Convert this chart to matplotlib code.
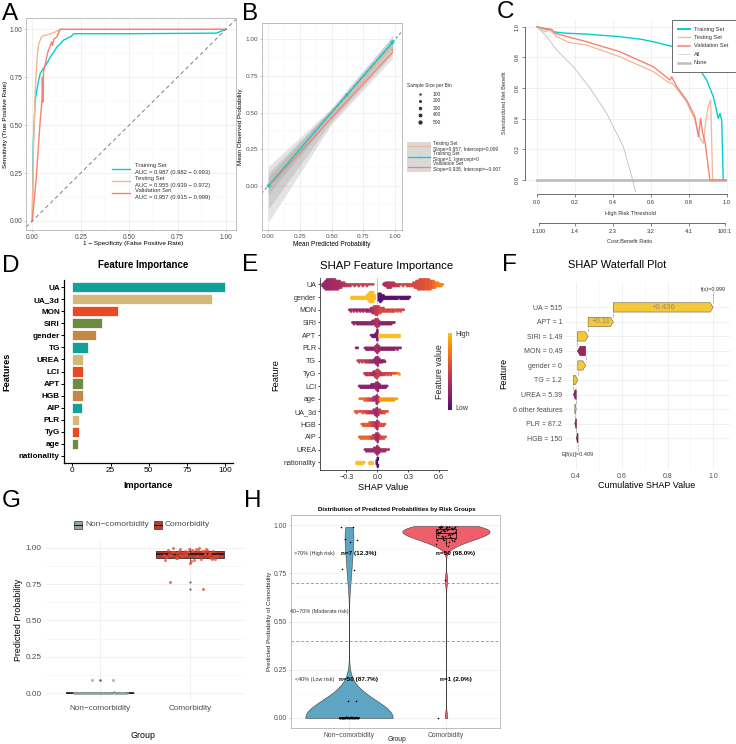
import numpy as np
import matplotlib
matplotlib.use("Agg")
import matplotlib.pyplot as plt
from matplotlib.patches import Polygon, Rectangle
import matplotlib.cm as cm
from matplotlib.colors import LinearSegmentedColormap

plt.rcParams['font.family'] = ['Liberation Sans', 'DejaVu Sans']
plt.rcParams['axes.unicode_minus'] = True

# ------------------------------------------------------------------ data
# A: ROC
roc_train_fpr = [0, 0.005, 0.015, 0.03, 0.041, 0.06, 0.08, 0.093, 0.11, 0.127, 0.145, 0.16, 0.175, 0.187, 0.2, 0.213, 0.5, 0.95, 1.0]
roc_train_tpr = [0, 0.40, 0.63, 0.72, 0.77, 0.80, 0.83, 0.856, 0.88, 0.908, 0.925, 0.943, 0.95, 0.957, 0.962, 0.977, 0.977, 0.98, 1.0]
roc_test_fpr = [0, 0.005, 0.015, 0.025, 0.033, 0.05, 0.09, 0.127, 0.144, 1.0]
roc_test_tpr = [0, 0.35, 0.68, 0.85, 0.925, 0.964, 0.975, 0.99, 1.0, 1.0]
roc_val_fpr = [0, 0.02, 0.041, 0.05, 0.052, 0.055, 0.058, 0.067, 0.08, 0.1, 0.104, 0.112, 0.127, 0.144, 1.0]
roc_val_tpr = [0, 0.22, 0.526, 0.63, 0.75, 0.62, 0.78, 0.82, 0.88, 0.934, 0.915, 0.95, 0.96, 1.0, 1.0]
roc_labels = ["Training Set\nAUC = 0.987 (0.982 \u2212 0.993)",
              "Testing Set\nAUC = 0.955 (0.939 \u2212 0.972)",
              "Validation Set\nAUC = 0.957 (0.915 \u2212 0.999)"]

# B: calibration
cal_pred_train = [0.005, 0.62, 0.98]
cal_obs_train = [0.0, 0.62, 0.98]
cal_n_train = [450, 250, 500]
cal_pred_test = [0.005, 0.98]
cal_obs_test = [0.02, 0.95]
cal_n_test = [150, 150]
cal_pred_val = [0.005, 0.98]
cal_obs_val = [0.0, 0.93]
cal_n_val = [100, 100]
cal_fit_train = (1.0, 0.0)
cal_fit_test = (0.957, 0.009)
cal_fit_val = (0.938, -0.007)
band_x = [0.0, 0.5, 0.98]
band_train_lo = [-0.06, 0.47, 0.95]
band_train_hi = [0.06, 0.53, 1.02]
band_test_lo = [-0.16, 0.44, 0.90]
band_test_hi = [0.13, 0.53, 1.02]
band_val_lo = [-0.25, 0.42, 0.87]
band_val_hi = [0.09, 0.52, 0.99]
size_legend_vals = [100, 200, 300, 400, 500]

# C: decision curve
dca_train_t = [0, 0.03, 0.06, 0.088, 0.15, 0.263, 0.438, 0.55, 0.614, 0.719, 0.825, 0.895, 0.93, 0.956, 0.965, 0.974, 0.982, 0.996]
dca_train_nb = [1.0, 0.99, 0.98, 0.967, 0.958, 0.952, 0.935, 0.918, 0.902, 0.870, 0.783, 0.652, 0.543, 0.402, 0.435, 0.39, 0.0, 0.0]
dca_test_t = [0, 0.044, 0.07, 0.088, 0.105, 0.167, 0.263, 0.438, 0.614, 0.702, 0.711, 0.737, 0.789, 0.833, 0.86, 0.877, 0.891, 0.903, 0.916, 0.926, 0.99]
dca_test_nb = [1.0, 0.967, 0.98, 0.957, 0.935, 0.898, 0.88, 0.804, 0.707, 0.63, 0.635, 0.598, 0.511, 0.391, 0.272, 0.239, 0.391, 0.478, 0.522, 0.0, 0.0]
dca_val_t = [0, 0.04, 0.079, 0.096, 0.263, 0.438, 0.614, 0.702, 0.711, 0.737, 0.789, 0.833, 0.851, 0.863, 0.874, 0.886, 0.912, 0.99]
dca_val_nb = [1.0, 0.99, 0.983, 0.957, 0.902, 0.837, 0.739, 0.652, 0.674, 0.609, 0.522, 0.413, 0.283, 0.402, 0.304, 0.25, 0.0, 0.0]
dca_all_t = [0, 0.05, 0.105, 0.193, 0.281, 0.368, 0.456, 0.505, 0.525]
dca_all_nb = [1.0, 0.94, 0.848, 0.739, 0.598, 0.435, 0.217, 0.0, -0.1]
dca_none_t = [0, 0.99]
dca_none_nb = [0, 0]
cb_ticks = [1/101, 0.2, 0.4, 0.6, 0.8, 100/101]
cb_labels = ["1:100", "1:4", "2:3", "3:2", "4:1", "100:1"]

# D: feature importance
imp_names = ['UA', 'UA_3d', 'MON', 'SIRI', 'gender', 'TG', 'UREA', 'LCI', 'APT', 'HGB', 'AIP', 'PLR', 'TyG', 'age', 'nationality']
imp_vals = [100, 91.5, 29.9, 19.4, 15.3, 10.3, 7.2, 7.2, 7.0, 6.8, 6.1, 4.6, 4.4, 3.9, 0]
imp_palette = ['#14A09A', '#D4B878', '#E64B23', '#6E8C41', '#C38746']

# E: SHAP beeswarm (shap value, number of points, feature value 0..1)
shap_features = ['UA', 'gender', 'MON', 'SIRI', 'APT', 'PLR', 'TG', 'TyG', 'LCI', 'age', 'UA_3d', 'HGB', 'AIP', 'UREA', 'nationality']
shap_UA = [(-0.53,2,0.25),(-0.515,4,0.28),(-0.50,6,0.3),(-0.485,7,0.25),(-0.47,8,0.3),(-0.455,8,0.28),(-0.44,8,0.32),(-0.425,7,0.3),(-0.41,7,0.35),(-0.395,6,0.3),(-0.38,6,0.35),(-0.365,5,0.32),(-0.35,4,0.38),(-0.335,3,0.35),(-0.32,3,0.4),(-0.30,2,0.4),(-0.28,2,0.42),(-0.26,2,0.4),(-0.24,1,0.45),(-0.22,2,0.45),(-0.20,1,0.42),(-0.18,2,0.45),(-0.16,1,0.5),(-0.14,2,0.45),(-0.12,1,0.45),(-0.10,2,0.5),(-0.08,1,0.45),(-0.06,1,0.5),(-0.04,1,0.45),
           (0.06,1,0.4),(0.07,2,0.35),(0.085,3,0.35),(0.10,4,0.38),(0.115,4,0.35),(0.13,4,0.4),(0.145,3,0.38),(0.16,3,0.4),(0.175,2,0.42),(0.19,2,0.45),(0.21,2,0.45),(0.23,1,0.5),(0.25,2,0.5),(0.27,1,0.5),(0.29,2,0.5),(0.31,2,0.5),(0.33,2,0.55),(0.35,3,0.55),(0.365,4,0.55),(0.38,5,0.55),(0.395,6,0.55),(0.41,7,0.58),(0.425,7,0.55),(0.44,8,0.6),(0.455,8,0.58),(0.47,8,0.6),(0.485,8,0.62),(0.50,7,0.6),(0.515,6,0.65),(0.53,5,0.62),(0.545,5,0.7),(0.56,4,0.72),(0.575,3,0.75),(0.59,3,0.8),(0.605,2,0.78),(0.62,2,0.8),(0.635,1,0.85)]
shap_gender = [(-0.25,2,1),(-0.235,2,1),(-0.22,2,1),(-0.205,2,1),(-0.19,2,1),(-0.175,2,1),(-0.16,2,1),(-0.145,2,1),(-0.13,2,1),(-0.115,2,1),(-0.10,3,1),(-0.085,5,1),(-0.07,8,1),(-0.055,9,1),(-0.04,7,1),(-0.025,3,1),
               (0.015,5,0.02),(0.03,6,0.02),(0.045,4,0.0),(0.06,3,0.02),(0.075,2,0),(0.09,2,0),(0.105,2,0),(0.12,2,0),(0.135,2,0),(0.15,2,0),(0.165,2,0),(0.18,2,0),(0.195,2,0),(0.21,1,0),(0.225,2,0),(0.24,2,0),(0.255,2,0),(0.27,2,0),(0.285,2,0),(0.30,2,0),(0.315,1,0)]
shap_MON = [(-0.27,1,0.25),(-0.255,2,0.3),(-0.24,1,0.25),(-0.225,2,0.3),(-0.21,1,0.2),(-0.195,2,0.3),(-0.18,1,0.25),(-0.165,2,0.25),(-0.15,1,0.3),(-0.135,2,0.25),(-0.12,1,0.3),(-0.105,2,0.3),(-0.09,2,0.25),(-0.075,2,0.35),(-0.06,3,0.3),(-0.045,4,0.35),(-0.03,5,0.4),(-0.015,6,0.45),(0.0,6,0.45),(0.015,5,0.5),(0.03,4,0.55),(0.045,3,0.55),(0.06,3,0.5),(0.075,2,0.55),(0.09,2,0.55),(0.105,2,0.5),(0.12,2,0.55),(0.135,2,0.55),(0.15,2,0.5),(0.165,2,0.55),(0.18,1,0.5),(0.195,2,0.55),(0.21,1,0.5),(0.225,2,0.55),(0.24,1,0.55),(0.255,1,0.5)]
shap_SIRI = [(-0.24,1,0.2),(-0.225,2,0.2),(-0.21,1,0.25),(-0.195,2,0.2),(-0.18,2,0.2),(-0.165,2,0.25),(-0.15,2,0.2),(-0.135,2,0.2),(-0.12,2,0.25),(-0.105,2,0.2),(-0.09,2,0.2),(-0.075,2,0.25),(-0.06,2,0.2),(-0.045,3,0.25),(-0.03,3,0.3),(-0.015,5,0.35),(0.0,6,0.4),(0.015,4,0.35),(0.03,2,0.25),(0.045,2,0.2),(0.06,2,0.2),(0.075,2,0.25),(0.09,2,0.2),(0.105,2,0.2),(0.12,2,0.2),(0.135,2,0.2),(0.15,1,0.2),(0.165,1,0.2)]
shap_APT = [(-0.06,1,0.1),(-0.045,2,0.1),(-0.03,2,0.1),(-0.015,3,0.1),(0.0,7,0.15),
            (0.02,2,1),(0.035,2,1),(0.05,2,1),(0.065,2,1),(0.08,2,1),(0.095,2,1),(0.11,2,1),(0.125,2,1),(0.14,2,1),(0.155,2,1),(0.17,2,1),(0.185,2,1),(0.20,2,1),(0.215,2,1)]
shap_PLR = [(-0.205,1,0.2),(-0.19,1,0.2),(-0.12,1,0.25),(-0.105,2,0.2),(-0.09,2,0.2),(-0.075,2,0.25),(-0.06,2,0.2),(-0.045,2,0.2),(-0.03,2,0.25),(-0.015,4,0.3),(0.0,6,0.35),(0.015,4,0.3),(0.03,2,0.25),(0.045,2,0.2),(0.06,2,0.2),(0.075,2,0.2),(0.09,2,0.25),(0.105,2,0.2),(0.12,2,0.2),(0.135,2,0.2),(0.15,2,0.2),(0.165,2,0.2),(0.18,1,0.2),(0.195,2,0.25),(0.21,1,0.2),(0.225,1,0.2)]
shap_TG = [(-0.19,1,0.5),(-0.175,2,0.45),(-0.16,1,0.5),(-0.145,2,0.45),(-0.13,1,0.5),(-0.115,2,0.4),(-0.10,2,0.45),(-0.085,2,0.4),(-0.07,2,0.35),(-0.055,2,0.3),(-0.04,2,0.3),(-0.025,3,0.25),(-0.01,5,0.25),(0.005,6,0.3),(0.02,3,0.25),(0.035,2,0.2),(0.05,2,0.2),(0.065,1,0.2),(0.075,1,0.2)]
shap_TyG = [(-0.125,1,0.5),(-0.11,2,0.45),(-0.095,2,0.4),(-0.08,2,0.45),(-0.065,2,0.4),(-0.05,2,0.35),(-0.035,3,0.3),(-0.02,4,0.35),(-0.005,6,0.45),(0.01,5,0.5),(0.025,3,0.45),(0.04,2,0.4),(0.055,2,0.45),(0.07,2,0.5),(0.085,1,0.45),(0.10,2,0.5),(0.115,1,0.5),(0.13,2,0.55),(0.145,1,0.55),(0.16,1,0.6),(0.175,1,0.55),(0.19,1,0.7),(0.205,1,0.8),(0.215,1,0.85)]
shap_LCI = [(-0.175,1,0.2),(-0.16,2,0.2),(-0.145,2,0.2),(-0.13,2,0.2),(-0.115,2,0.2),(-0.10,2,0.2),(-0.085,2,0.2),(-0.07,2,0.2),(-0.055,3,0.2),(-0.04,3,0.2),(-0.025,3,0.25),(-0.01,5,0.25),(0.005,6,0.25),(0.02,3,0.2),(0.035,2,0.2),(0.05,2,0.2),(0.065,2,0.2),(0.08,2,0.2),(0.095,1,0.2)]
shap_age = [(-0.17,1,0.75),(-0.155,1,0.7),(-0.14,1,0.75),(-0.125,2,0.7),(-0.11,2,0.65),(-0.095,2,0.6),(-0.08,2,0.55),(-0.065,2,0.5),(-0.05,2,0.45),(-0.035,3,0.4),(-0.02,3,0.35),(-0.005,6,0.3),(0.01,4,0.35),(0.025,2,0.85),(0.04,2,0.85),(0.055,2,0.9),(0.07,2,0.85),(0.085,2,0.9),(0.10,2,0.85),(0.115,2,0.9),(0.13,2,0.85),(0.145,2,0.9),(0.16,2,0.85),(0.175,1,0.9),(0.19,1,0.9)]
shap_UA_3d = [(-0.215,1,0.65),(-0.20,2,0.6),(-0.185,1,0.65),(-0.17,1,0.6),(-0.155,1,0.55),(-0.14,2,0.6),(-0.125,1,0.55),(-0.11,2,0.5),(-0.095,2,0.5),(-0.08,2,0.45),(-0.065,2,0.45),(-0.05,2,0.4),(-0.035,3,0.35),(-0.02,4,0.3),(-0.005,6,0.3),(0.01,4,0.35),(0.025,3,0.45),(0.04,2,0.5),(0.055,2,0.55),(0.07,2,0.55),(0.085,1,0.6),(0.10,1,0.6)]
shap_HGB = [(-0.15,1,0.6),(-0.135,2,0.65),(-0.12,2,0.6),(-0.105,2,0.7),(-0.09,2,0.6),(-0.075,3,0.65),(-0.06,3,0.55),(-0.045,3,0.5),(-0.03,3,0.45),(-0.015,4,0.4),(0.0,6,0.35),(0.015,3,0.45),(0.03,2,0.55),(0.045,2,0.6),(0.06,2,0.55),(0.075,1,0.6)]
shap_AIP = [(-0.175,1,0.7),(-0.16,2,0.65),(-0.145,2,0.7),(-0.13,2,0.65),(-0.115,2,0.7),(-0.10,2,0.65),(-0.085,2,0.7),(-0.07,2,0.6),(-0.055,2,0.55),(-0.04,3,0.5),(-0.025,3,0.45),(-0.01,5,0.35),(0.005,6,0.3),(0.02,3,0.4),(0.035,2,0.5),(0.05,2,0.55),(0.065,2,0.6),(0.08,1,0.6)]
shap_UREA = [(-0.12,1,0.3),(-0.105,2,0.25),(-0.09,2,0.25),(-0.075,2,0.3),(-0.06,2,0.25),(-0.045,2,0.25),(-0.03,3,0.3),(-0.015,4,0.3),(0.0,6,0.3),(0.015,4,0.3),(0.03,2,0.25),(0.045,2,0.3),(0.06,2,0.35),(0.075,2,0.3),(0.09,1,0.3),(0.11,1,0.35)]
shap_nationality = [(-0.2,2,1),(-0.185,2,1),(-0.17,2,1),(-0.155,2,1),(-0.14,2,1),(-0.125,1,1),(-0.075,2,1),(-0.06,2,1),(-0.045,2,1),(-0.005,3,0.0),(0.005,4,0.0)]
shap_rows = [shap_UA, shap_gender, shap_MON, shap_SIRI, shap_APT, shap_PLR, shap_TG, shap_TyG, shap_LCI, shap_age, shap_UA_3d, shap_HGB, shap_AIP, shap_UREA, shap_nationality]

# F: waterfall
wf_labels = ['UA = 515', 'APT = 1', 'SIRI = 1.49', 'MON = 0.49', 'gender = 0', 'TG = 1.2', 'UREA = 5.39', '6 other features', 'PLR = 87.2', 'HGB = 150']
wf_shap = [0.436, 0.110, 0.047, -0.036, 0.034, 0.019, -0.012, 0.006, -0.007, -0.007]
wf_base = 0.409
wf_fx = 0.999

# G: predicted probability by group
g_groups = ['Non\u2212comorbidity', 'Comorbidity']
g_noncomorb = [0.000,0.001,0.002,0.001,0.003,0.000,0.002,0.004,0.001,0.002,0.003,0.001,0.000,0.002,0.005,0.001,0.003,0.002,0.001,0.004,0.002,0.000,0.003,0.001,0.002,0.006,0.001,0.002,0.003,0.001,0.004,0.002,0.001,0.003,0.002,0.001,0.000,0.002,0.005,0.003,0.001,0.002,0.004,0.001,0.003,0.002,0.092,0.092]
g_comorb = [0.99,0.98,0.985,0.97,0.96,0.975,0.95,0.94,0.93,0.965,0.99,0.955,0.98,0.945,0.92,0.915,0.97,0.985,0.96,0.935,0.995,0.975,0.925,0.91,0.95,0.98,0.965,0.94,0.99,0.93,0.955,0.97,0.985,0.92,0.96,0.945,0.975,1.0,0.99,0.95,0.912,0.985,0.965,0.93,0.895,0.765,0.715]

# H: risk groups
h_noncomorb = [0.000,0.001,0.000,0.002,0.001,0.000,0.003,0.001,0.000,0.002,0.001,0.000,0.004,0.001,0.002,0.000,0.001,0.003,0.000,0.002,0.001,0.000,0.001,0.002,0.000,0.003,0.001,0.000,0.002,0.001,0.000,0.004,0.001,0.002,0.000,0.001,0.003,0.000,0.002,0.001,0.000,0.001,0.002,0.000,0.003,0.001,0.000,0.002,0.09,0.09,
               0.99,0.988,0.93,0.925,0.91,0.77,0.765]
h_comorb = [0.99,0.985,0.98,0.975,0.99,0.97,0.96,0.985,0.95,0.94,0.93,0.99,0.98,0.965,0.955,0.945,0.92,0.91,0.99,0.985,0.975,0.96,0.935,0.925,0.9,0.89,0.995,0.98,0.97,0.965,0.95,0.94,0.93,0.99,0.985,0.98,0.97,0.96,0.955,0.945,0.915,0.905,0.99,0.985,0.975,0.965,0.95,0.935,0.92,0.715,0.0]
h_cut_high = 0.7
h_cut_low = 0.4

# ------------------------------------------------------------------ figure
W, H = 736, 744
fig = plt.figure(figsize=(W / 100, H / 100), dpi=100)
fig.patch.set_facecolor('white')


def add_ax(l, t, r, b, **kw):
    return fig.add_axes([l / W, 1 - b / H, (r - l) / W, (b - t) / H], **kw)


def ftext(x, y, s, **kw):
    fig.text(x / W, 1 - y / H, s, **kw)


C_TRAIN, C_TEST, C_VAL = '#00CED1', '#F0B894', '#FA8072'
GRID = '#EBEBEB'
TXT = '#4D4D4D'


def gg_light(ax, xmaj, ymaj, xmin=None, ymin=None, fs=4.8, border='#B3B3B3'):
    for s in ax.spines.values():
        s.set_color(border)
        s.set_linewidth(0.6)
    ax.set_xticks(xmaj)
    ax.set_yticks(ymaj)
    if xmin is not None:
        ax.set_xticks(xmin, minor=True)
    if ymin is not None:
        ax.set_yticks(ymin, minor=True)
    ax.grid(True, which='major', color=GRID, lw=0.5)
    ax.grid(True, which='minor', color='#F4F4F4', lw=0.35)
    ax.tick_params(which='major', length=1.5, width=0.5, color='#B3B3B3', labelsize=fs, labelcolor=TXT, pad=1.2)
    ax.tick_params(which='minor', length=0)
    ax.set_axisbelow(True)


# ---------------- A: ROC
axA = add_ax(26, 18, 236, 230)
axA.set_xlim(-0.0325, 1.052)
axA.set_ylim(-0.047, 1.059)
tk = [0, 0.25, 0.5, 0.75, 1.0]
tkl = ['0.00', '0.25', '0.50', '0.75', '1.00']
gg_light(axA, tk, tk, [0.125, 0.375, 0.625, 0.875], [0.125, 0.375, 0.625, 0.875])
axA.set_xticklabels(tkl)
axA.set_yticklabels(tkl)
axA.plot(roc_train_fpr, roc_train_tpr, color=C_TRAIN, lw=1.0)
axA.plot(roc_test_fpr, roc_test_tpr, color=C_TEST, lw=1.0)
axA.plot(roc_val_fpr, roc_val_tpr, color=C_VAL, lw=1.0)
axA.axline((0, 0), (1, 1), color='#808080', lw=0.7, ls=(0, (4, 3)))
ftext(133, 243, '1 \u2212 Specificity (False Positive Rate)', fontsize=4.6, ha='center', va='center')
ftext(6, 124, 'Sensitivity (True Positive Rate)', fontsize=4.6, ha='center', va='center', rotation=90)

# ---------------- B: calibration
axB = add_ax(261.7, 23.3, 401.7, 230)
axB.set_xlim(-0.052, 1.053)
axB.set_ylim(-0.303, 1.110)
gg_light(axB, tk, tk, [0.125, 0.375, 0.625, 0.875], [-0.125, 0.125, 0.375, 0.625, 0.875], fs=4.6)
axB.set_xticklabels(tkl)
axB.set_yticklabels(tkl)
for lo, hi in [(band_val_lo, band_val_hi), (band_test_lo, band_test_hi), (band_train_lo, band_train_hi)]:
    axB.fill_between(band_x, lo, hi, color='#7A7A7A', alpha=0.2, lw=0)
axB.axline((0, 0), (1, 1), color='#555555', lw=0.6, ls=(0, (3, 3)))
for (sl, ic), col in [(cal_fit_test, C_TEST), (cal_fit_train, C_TRAIN), (cal_fit_val, C_VAL)]:
    xs = np.array([0.0, 0.98])
    axB.plot(xs, ic + sl * xs, color=col, lw=0.9)


def cal_size(n):
    return 1.5 + np.asarray(n) * 0.016


axB.scatter(cal_pred_test, cal_obs_test, s=cal_size(cal_n_test), color=C_TEST, alpha=0.8, lw=0, zorder=3)
axB.scatter(cal_pred_val, cal_obs_val, s=cal_size(cal_n_val), color=C_VAL, alpha=0.8, lw=0, zorder=3)
axB.scatter(cal_pred_train, cal_obs_train, s=cal_size(cal_n_train), color=C_TRAIN, alpha=0.8, lw=0, zorder=4)
ftext(331.7, 244.3, 'Mean Predicted Probability', fontsize=4.7, ha='center', va='center')
ftext(240.8, 126.7, 'Mean Observed Probability', fontsize=4.6, ha='center', va='center', rotation=90)

# ---------------- C: decision curve
axC = add_ax(525, 20, 735, 192)
axC.set_xlim(-0.062, 1.044)
axC.set_ylim(-0.078, 1.044)
for v in np.arange(0, 1.01, 0.2):
    axC.axvline(v, color=GRID, lw=0.5, zorder=0)
    axC.axhline(v, color=GRID, lw=0.5, zorder=0)
axC.plot(dca_none_t, dca_none_nb, color='#BEBEBE', lw=2.0)
axC.plot(dca_all_t, dca_all_nb, color='#BEBEBE', lw=0.6)
axC.plot(dca_train_t, dca_train_nb, color=C_TRAIN, lw=1.0)
axC.plot(dca_test_t, dca_test_nb, color=C_TEST, lw=0.9)
axC.plot(dca_val_t, dca_val_nb, color=C_VAL, lw=1.0)
axC.spines['top'].set_visible(False)
axC.spines['right'].set_visible(False)
axC.spines['left'].set_bounds(0, 1)
axC.spines['bottom'].set_bounds(0, 1)
axC.spines['bottom'].set_position(('outward', 1.7))
for s in ('left', 'bottom'):
    axC.spines[s].set_color('#555555')
    axC.spines[s].set_linewidth(0.6)
ct = [0, 0.2, 0.4, 0.6, 0.8, 1.0]
axC.set_xticks(ct)
axC.set_xticklabels(['0.0', '0.2', '0.4', '0.6', '0.8', '1.0'])
axC.set_yticks(ct)
axC.set_yticklabels(['0.0', '0.2', '0.4', '0.6', '0.8', '1.0'], rotation=90, va='center')
axC.tick_params(length=2, width=0.5, color='#555555', labelsize=4.1, labelcolor='#333333', pad=2)
secC = axC.secondary_xaxis(-0.18)
secC.set_xticks(cb_ticks)
secC.set_xticklabels(cb_labels)
secC.tick_params(length=2, width=0.5, color='#555555', labelsize=4.1, labelcolor='#333333', pad=2)
secC.spines['bottom'].set_bounds(cb_ticks[0], cb_ticks[-1])
secC.spines['bottom'].set_color('#555555')
secC.spines['bottom'].set_linewidth(0.6)
ftext(630, 213.5, 'High Risk Threshold', fontsize=4.1, ha='center', va='center', color='#333333')
ftext(630, 241, 'Cost:Benefit Ratio', fontsize=4.1, ha='center', va='center', color='#333333')
ftext(505, 103, 'Standardized Net Benefit', fontsize=4.1, ha='center', va='center', rotation=90, color='#333333')

# ---------------- D: feature importance
axD = add_ax(64, 280, 233, 463)
cols = [imp_palette[i % len(imp_palette)] for i in range(len(imp_names))]
axD.barh(np.arange(len(imp_names)), imp_vals, height=0.85, color=cols, edgecolor='white', lw=0.5)
axD.set_ylim(len(imp_names) - 0.4, -0.6)
axD.set_xlim(-5.5, 105.2)
axD.set_yticks(np.arange(len(imp_names)))
axD.set_yticklabels(imp_names, fontweight='bold')
axD.set_xticks([0, 25, 50, 75, 100])
for s in ('top', 'right'):
    axD.spines[s].set_visible(False)
for s in ('left', 'bottom'):
    axD.spines[s].set_linewidth(0.9)
axD.tick_params(length=2, width=0.7, labelsize=5.9, colors='black', pad=1)
ftext(143, 265, 'Feature Importance', fontsize=7, fontweight='bold', ha='center', va='center')
ftext(148.5, 486, 'Importance', fontsize=6.6, fontweight='bold', ha='center', va='center')
ftext(7, 372, 'Features', fontsize=6.6, fontweight='bold', ha='center', va='center', rotation=90)

# ---------------- E: SHAP beeswarm
axE = add_ax(320, 278, 447, 470)
E_xmin, E_xmax = -0.555, 0.675
E_ymin, E_ymax = 14.61, -0.5
axE.set_xlim(E_xmin, E_xmax)
axE.set_ylim(E_ymin, E_ymax)
px_per_x = (447 - 320) / (E_xmax - E_xmin)
px_per_row = (470 - 278) / (E_ymin - E_ymax)
shap_cmap = LinearSegmentedColormap.from_list('shapinf', cm.inferno(np.linspace(0.25, 0.85, 64)))


def beeswarm(xpx, d=1.35, maxoff=5.2):
    n = len(xpx)
    order = np.argsort(xpx, kind='mergesort')
    step = d / 2.5
    cands = [0.0]
    k = 1
    while k * step <= maxoff + 1e-9:
        cands += [k * step, -k * step]
        k += 1
    cands = np.array(cands)
    offs = np.zeros(n)
    px_l, py_l = [], []
    for i in order:
        x = xpx[i]
        nbx = np.array(px_l[-120:])
        nby = np.array(py_l[-120:])
        if len(nbx):
            m = (x - nbx) < d
            nbx, nby = nbx[m], nby[m]
        if len(nbx) == 0:
            c = 0.0
        else:
            dx2 = (x - nbx) ** 2
            dist = dx2[None, :] + (nby[None, :] - cands[:, None]) ** 2
            ok = np.all(dist >= d * d - 1e-9, axis=1)
            if ok.any():
                c = cands[np.argmax(ok)]
            else:
                c = cands[np.argmax(dist.min(axis=1))]
        offs[i] = c
        px_l.append(x)
        py_l.append(c)
    return offs


axE.axvline(0, color='#BDBDBD', lw=0.6, zorder=0)
for r, pts in enumerate(shap_rows):
    xs = np.repeat([p[0] for p in pts], [p[1] for p in pts])
    fv = np.repeat([p[2] for p in pts], [p[1] for p in pts])
    offs = beeswarm(xs * px_per_x)
    axE.scatter(xs, r + offs / px_per_row, c=fv, cmap=shap_cmap, vmin=0, vmax=1, s=4.2, lw=0, alpha=0.95, zorder=2)
axE.set_yticks(np.arange(len(shap_features)))
axE.set_yticklabels(shap_features)
axE.set_xticks([-0.3, 0.0, 0.3, 0.6])
axE.set_xticklabels(['\u22120.3', '0.0', '0.3', '0.6'])
for s in ('top', 'right'):
    axE.spines[s].set_visible(False)
for s in ('left', 'bottom'):
    axE.spines[s].set_linewidth(0.6)
    axE.spines[s].set_color('#333333')
axE.tick_params(length=1.5, width=0.5, labelsize=5.2, labelcolor='#333333', pad=1.2)
ftext(386.7, 266, 'SHAP Feature Importance', fontsize=8.2, ha='center', va='center')
ftext(383, 487.3, 'SHAP Value', fontsize=6.6, ha='center', va='center')
ftext(275.5, 375, 'Feature', fontsize=6.6, ha='center', va='center', rotation=90)
axCb = add_ax(447.6, 333.3, 451, 410)
axCb.imshow(np.linspace(1, 0, 100)[:, None], aspect='auto', cmap=shap_cmap, vmin=0, vmax=1)
axCb.axis('off')
ftext(455, 334, 'High', fontsize=5, va='center', color='#333333')
ftext(455, 409, 'Low', fontsize=5, va='center', color='#333333')
ftext(440, 371.7, 'Feature value', fontsize=6.4, ha='center', va='center', rotation=90, color='#222222')

# ---------------- F: waterfall
axF = add_ax(565, 282, 730, 470)
axF.set_xlim(0.352, 1.073)
axF.set_ylim(11.2, -1.75)
axF.set_xticks([0.4, 0.6, 0.8, 1.0])
axF.set_xticklabels(['0.4', '0.6', '0.8', '1.0'])
axF.set_xticks([0.5, 0.7, 0.9], minor=True)
axF.set_yticks(np.arange(len(wf_labels)))
axF.set_yticklabels(wf_labels)
axF.grid(True, which='major', color=GRID, lw=0.5)
axF.grid(True, which='minor', axis='x', color='#F4F4F4', lw=0.4)
axF.set_axisbelow(True)
for s in axF.spines.values():
    s.set_visible(False)
axF.tick_params(which='both', length=0, labelsize=5, labelcolor=TXT, pad=2)
hh = 0.32
cum = wf_base
starts, ends = [0] * len(wf_shap), [0] * len(wf_shap)
for i in range(len(wf_shap) - 1, -1, -1):
    starts[i] = cum
    cum = cum + wf_shap[i]
    ends[i] = cum
for i, v in enumerate(wf_shap):
    s0, e0 = starts[i], ends[i]
    tip = min(0.012, 0.6 * abs(v)) * np.sign(v)
    poly = [(s0, i - hh), (e0 - tip, i - hh), (e0, i), (e0 - tip, i + hh), (s0, i + hh)]
    col = '#F5C83C' if v > 0 else '#A3245C'
    axF.add_patch(Polygon(poly, closed=True, facecolor=col, edgecolor='#5E5030' if v > 0 else '#4A1030', lw=0.35, zorder=3))
    if abs(v) >= 0.1:
        axF.text((s0 + e0) / 2, i, '+%s' % ('%.3g' % v), fontsize=5.6, color='#968C6C', ha='center', va='center', zorder=4)
    if i > 0:
        axF.plot([e0, e0], [i - hh, i - 1 + hh], color='#555555', lw=0.45, ls=(0, (1.2, 1.2)), zorder=2)
axF.plot([ends[0], ends[0]], [-hh, -1.05], color='#555555', lw=0.45, ls=(0, (1.2, 1.2)), zorder=2)
axF.plot([wf_base, wf_base], [len(wf_shap) - 1 + hh, len(wf_shap) - 0.1], color='#555555', lw=0.45, ls=(0, (1.2, 1.2)), zorder=2)
axF.text(wf_fx, -1.2, 'f(x)=%.3f' % wf_fx, fontsize=4, ha='center', va='center', color='#333333')
axF.text(wf_base, len(wf_shap) + 0.1, 'E[f(x)]=%.3f' % wf_base, fontsize=4, ha='center', va='center', color='#333333')
ftext(616.7, 265, 'SHAP Waterfall Plot', fontsize=7.9, ha='center', va='center')
ftext(646.7, 485.5, 'Cumulative SHAP Value', fontsize=6.5, ha='center', va='center')
ftext(503.5, 373.3, 'Feature', fontsize=6.5, ha='center', va='center', rotation=90)

# ---------------- G: boxplot
axG = add_ax(46, 540.4, 244, 700.6)
g_fill = ['#95A5A6', '#C0392B']
g_pt = ['#95A5A6', '#E74C3C']
bp = axG.boxplot([g_noncomorb, g_comorb], positions=[1, 2], widths=0.75, patch_artist=True, manage_ticks=False,
                 medianprops=dict(color='#1A1A1A', lw=1.2), whiskerprops=dict(color='#1A1A1A', lw=0.5),
                 capprops=dict(lw=0), boxprops=dict(lw=0.5, edgecolor='#1A1A1A'),
                 flierprops=dict(marker='o', markersize=1.6, markerfacecolor='#5E6B6E', markeredgewidth=0))
for patch, c in zip(bp['boxes'], g_fill):
    patch.set_facecolor(c)
for gi, vals in enumerate([g_noncomorb, g_comorb]):
    n = len(vals)
    jit = ((np.arange(n) * 0.6180339887 + 0.31) % 1.0 - 0.5) * 0.6
    axG.scatter(gi + 1 + jit, vals, s=5, color=g_pt[gi], alpha=0.75, lw=0, zorder=3)
axG.set_xlim(0.4, 2.6)
axG.set_ylim(-0.05, 1.05)
axG.set_xticks([1, 2])
axG.set_xticklabels(g_groups)
axG.set_yticks(tk)
axG.set_yticklabels(tkl)
axG.set_yticks([0.125, 0.375, 0.625, 0.875], minor=True)
axG.grid(True, which='major', color=GRID, lw=0.5)
axG.grid(True, which='minor', axis='y', color='#F4F4F4', lw=0.4)
axG.set_axisbelow(True)
for s in axG.spines.values():
    s.set_visible(False)
axG.tick_params(which='both', length=0, labelsize=5.9, labelcolor=TXT, pad=3)
ftext(142.7, 735, 'Group', fontsize=6.4, ha='center', va='center')
ftext(19, 620, 'Predicted Probability', fontsize=6.4, ha='center', va='center', rotation=90)

# ---------------- H: violin
axH = add_ax(290.8, 515, 500, 728)
for vals, pos, col, bw in [(h_noncomorb, 1, '#5DA5C3', 0.3), (h_comorb, 2, '#EF5F6B', 0.2)]:
    vp = axH.violinplot([vals], positions=[pos], widths=0.9, showextrema=False, bw_method=bw, points=300)
    for b in vp['bodies']:
        b.set_facecolor(col)
        b.set_edgecolor('#404040')
        b.set_linewidth(0.4)
        b.set_alpha(1)
bpH = axH.boxplot([h_noncomorb, h_comorb], positions=[1, 2], widths=0.2, patch_artist=True, showfliers=False,
                  manage_ticks=False,
                  medianprops=dict(color='black', lw=0.6), whiskerprops=dict(color='black', lw=0.4),
                  capprops=dict(lw=0), boxprops=dict(lw=0.5, edgecolor='black', facecolor='none'))
for gi, vals in enumerate([h_noncomorb, h_comorb]):
    n = len(vals)
    jit = ((np.arange(n) * 0.6180339887 + 0.17) % 1.0 - 0.5) * 0.2
    axH.scatter(gi + 1 + jit, vals, s=1.3, color='black', lw=0, zorder=4)
axH.axhline(h_cut_high, color='#A0A0A0', lw=0.7, ls=(0, (3, 2)))
axH.axhline(h_cut_low, color='#A0A0A0', lw=0.7, ls=(0, (3, 2)))
axH.text(0.646, 0.85, '>70% (High risk)', fontsize=3.9, ha='center', va='center', color='#333333')
axH.text(0.696, 0.55, '40\u221270% (Moderate risk)', fontsize=3.9, ha='center', va='center', color='#333333')
axH.text(0.65, 0.20, '<40% (Low risk)', fontsize=3.9, ha='center', va='center', color='#333333')
for gi, vals in enumerate([h_noncomorb, h_comorb]):
    a = np.asarray(vals)
    nh = int(np.sum(a >= h_cut_high))
    nl = int(np.sum(a < h_cut_low))
    axH.text(gi + 1.1, 0.85, 'n=%d (%.1f%%)' % (nh, 100 * nh / len(a)), fontsize=4.6, fontweight='bold', ha='center', va='center')
    axH.text(gi + 1.1, 0.20, 'n=%d (%.1f%%)' % (nl, 100 * nl / len(a)), fontsize=4.6, fontweight='bold', ha='center', va='center')
axH.set_xlim(0.4, 2.557)
axH.set_ylim(-0.052, 1.052)
gg_light(axH, [1, 2], tk, None, [0.125, 0.375, 0.625, 0.875], fs=4.9)
axH.set_xticklabels(g_groups)
axH.set_yticklabels(tkl)
ftext(397, 510, 'Distribution of Predicted Probabilities by Risk Groups', fontsize=4.4, fontweight='bold', ha='center', va='center')
ftext(396.7, 739.3, 'Group', fontsize=4.9, ha='center', va='center', color='#222222')
ftext(270, 621.7, 'Predicted Probability of Comorbidity', fontsize=4.5, ha='center', va='center', rotation=90, color='#222222')

# ---------------- overlay: legends and panel letters
ov = fig.add_axes([0, 0, 1, 1], zorder=20)
ov.set_xlim(0, W)
ov.set_ylim(H, 0)
ov.axis('off')
ov.patch.set_alpha(0)

# A legend
for (yl, yt), col, lab in zip([(169, 166), (181, 178.5), (193, 191)], [C_TRAIN, C_TEST, C_VAL], roc_labels):
    ov.plot([112, 130], [yl, yl], color=col, lw=1.0)
    l1, l2 = lab.split('\n')
    ov.text(135, yt, l1, fontsize=4.2, va='center', color='#333333')
    ov.text(135, yt + 6.6, l2, fontsize=4.2, va='center', color='#333333')

# B legends
ov.text(407, 86, 'Sample Size per Bin', fontsize=3.5, va='center', color='#333333')
for yy, nn in zip([94, 101, 108, 115, 122], size_legend_vals):
    ov.scatter([419.5], [yy], s=cal_size(nn), color='#333333', lw=0)
    ov.text(433, yy, str(nn), fontsize=3.5, va='center', color='#333333')
ov.add_patch(Rectangle((407, 142), 24, 30, facecolor='#D9D9D9', edgecolor='none'))
for yl, col in zip([146, 157, 167], [C_TEST, C_TRAIN, C_VAL]):
    ov.plot([408, 430], [yl, yl], color=col, lw=0.9)
    ov.scatter([419], [yl], s=1.5, color=col, lw=0)
for yy, s in zip([144, 149, 154, 159, 163.5, 169],
                 ['Testing Set', 'Slope=0.957, Intercept=0.009', 'Training Set', 'Slope=1, Intercept=0',
                  'Validation Set', 'Slope=0.938, Intercept=\u22120.007']):
    ov.text(433, yy, s, fontsize=3.5, va='center', color='#333333')

# C legend
ov.add_patch(Rectangle((672, 20), 63.5, 52, facecolor='white', edgecolor='#555555', lw=0.6))
for yy, col, lw_, s in zip([29, 37.3, 45.7, 54.3, 63], [C_TRAIN, C_TEST, C_VAL, '#D3D3D3', '#BEBEBE'],
                           [1.4, 1.0, 1.1, 0.6, 1.8], ['Training Set', 'Testing Set', 'Validation Set', 'All', 'None']):
    ov.plot([678, 690], [yy, yy], color=col, lw=lw_)
    ov.text(694, yy, s, fontsize=4.1, va='center', color='#333333')

# G legend
for x0, col, s in [(74, g_fill[0], g_groups[0]), (154, g_fill[1], g_groups[1])]:
    ov.add_patch(Rectangle((x0, 521), 8, 8, facecolor=col, edgecolor='#333333', lw=0.5))
    ov.plot([x0, x0 + 8], [525, 525], color='#1A1A1A', lw=0.8)
    ov.text(x0 + 11, 525, s, fontsize=6, va='center', color=TXT)

# panel letters
for x, y, s in [(2, 3, 'A'), (242, 3, 'B'), (497, 1, 'C'), (2, 255, 'D'), (242, 254, 'E'), (502, 254, 'F'),
                (2, 490, 'G'), (244, 490, 'H')]:
    ov.text(x, y, s, fontsize=17.5, va='top', ha='left', color='black')

fig.savefig('out.png', dpi=100, facecolor='white')
